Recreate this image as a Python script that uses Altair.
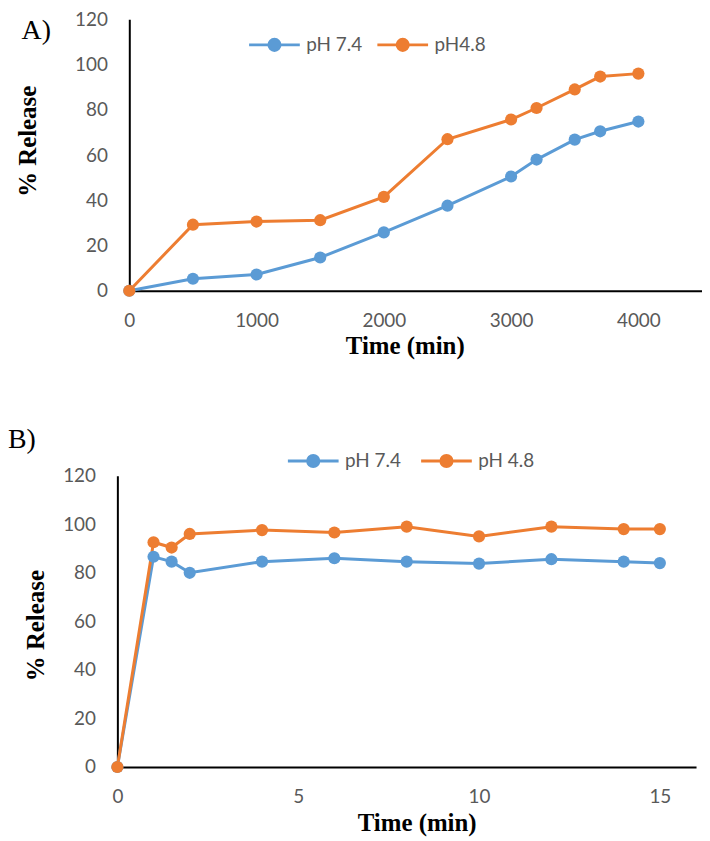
import altair as alt
import pandas as pd

# ---------------- data ----------------
a_time = [0, 500, 1000, 1500, 2000, 2500, 3000, 3200, 3500, 3700, 4000]
a_ph74 = [0, 5.3, 7.2, 14.7, 25.8, 37.6, 50.5, 58.0, 66.8, 70.5, 74.8]
a_ph48 = [0, 29.2, 30.6, 31.2, 41.5, 67.0, 75.7, 80.8, 89.0, 94.7, 96.0]
a_names = ["pH 7.4", "pH4.8"]

b_time = [0, 1, 1.5, 2, 4, 6, 8, 10, 12, 14, 15]
b_ph74 = [0, 86.6, 84.6, 80.0, 84.6, 86.0, 84.6, 83.8, 85.6, 84.6, 84.0]
b_ph48 = [0, 92.6, 90.4, 96.0, 97.6, 96.6, 99.0, 95.0, 99.0, 98.0, 98.0]
b_names = ["pH 7.4", "pH 4.8"]

colors = ["#5B9BD5", "#ED7D31"]
y_ticks = [0, 20, 40, 60, 80, 100, 120]
a_x_ticks = [0, 1000, 2000, 3000, 4000]
b_x_ticks = [0, 5, 10, 15]
panel_labels = ["A)", "B)"]


def to_long(times, s1, s2, names):
    rows = []
    for t, v in zip(times, s1):
        rows.append({"t": t, "v": v, "s": names[0]})
    for t, v in zip(times, s2):
        rows.append({"t": t, "v": v, "s": names[1]})
    return pd.DataFrame(rows)


LABEL_FONT = "Lato"
LABEL_COLOR = "#595959"
TITLE_FONT = "Liberation Serif"

# line through a solid dot (concentric stroked circles fill the dot)
LEG_PATH = (
    "M-1,0L1,0"
    "M-0.22,0A0.22,0.22,0,1,0,0.22,0A0.22,0.22,0,1,0,-0.22,0"
    "M-0.12,0A0.12,0.12,0,1,0,0.12,0A0.12,0.12,0,1,0,-0.12,0"
    "M-0.04,0A0.04,0.04,0,1,0,0.04,0A0.04,0.04,0,1,0,-0.04,0"
)


def panel(times, s1, s2, names, xdom, xticks, xrange, width, height,
          yoffset, ytitle_x, ytitle_y, xtitle_x, xtitle_y,
          leg_x, leg_y, leg_pad, label, lab_x, lab_y):
    df = to_long(times, s1, s2, names)
    xs = alt.Scale(domain=xdom, range=xrange, nice=False, zero=False)
    ys = alt.Scale(domain=[0, 120], nice=False)
    xa = alt.Axis(values=xticks, format="d", ticks=False, tickSize=0, grid=False,
                  domainColor="black", domainWidth=2,
                  labelFont=LABEL_FONT, labelFontSize=19, labelColor=LABEL_COLOR,
                  labelPadding=21, labelFlush=False, labelOverlap=False,
                  title="Time (min)", titleFont=TITLE_FONT, titleFontWeight="bold",
                  titleFontSize=25, titleColor="black", titleX=xtitle_x, titleY=xtitle_y,
                  titleAlign="center", titleBaseline="alphabetic")
    ya = alt.Axis(values=y_ticks, ticks=False, tickSize=0, grid=False,
                  domainColor="black", domainWidth=2, offset=yoffset,
                  labelFont=LABEL_FONT, labelFontSize=19, labelColor=LABEL_COLOR,
                  labelPadding=22, labelFlush=False, labelOverlap=False,
                  title="% Release", titleFont=TITLE_FONT, titleFontWeight="bold",
                  titleFontSize=25, titleColor="black", titleAngle=270,
                  titleX=ytitle_x, titleY=ytitle_y, titleAlign="center",
                  titleBaseline="middle")
    cs = alt.Scale(domain=names, range=colors)
    base = alt.Chart(df)
    lines = base.mark_line(strokeWidth=3).encode(
        x=alt.X("t:Q", scale=xs, axis=xa),
        y=alt.Y("v:Q", scale=ys, axis=ya),
        color=alt.Color("s:N", scale=cs, sort=names, legend=alt.Legend(
            title=None, orient="none", direction="horizontal",
            legendX=leg_x, legendY=leg_y, padding=0,
            symbolType=LEG_PATH, symbolSize=2601, symbolStrokeWidth=3,
            labelFont=LABEL_FONT, labelFontSize=19, labelColor=LABEL_COLOR,
            labelOffset=5, columnPadding=leg_pad)),
    )
    pts = base.mark_circle(size=150, opacity=1).encode(
        x=alt.X("t:Q", scale=xs, axis=xa),
        y=alt.Y("v:Q", scale=ys, axis=ya),
        color=alt.Color("s:N", scale=cs, sort=names, legend=None),
    )
    lab = alt.Chart(pd.DataFrame({"lab": [label]})).mark_text(
        align="left", baseline="alphabetic", font=TITLE_FONT, fontSize=28,
        color="black").encode(text="lab:N", x=alt.value(lab_x), y=alt.value(lab_y))
    return alt.layer(lines, pts, lab).properties(width=width, height=height)


chart_a = panel(a_time, a_ph74, a_ph48, a_names, [0, 4500], a_x_ticks, [12, 588],
                588, 273, -12, -102, 122.2, 289, 63,
                131, -1.5, 8, panel_labels[0], -96.3, 19.7)
chart_b = panel(b_time, b_ph74, b_ph48, b_names, [0, 16], b_x_ticks, [0, 582],
                582, 293, 0, -82, 150.3, 301, 64,
                170, -42, 13, panel_labels[1], -110, -27.4)

chart = alt.vconcat(chart_a, chart_b, spacing=68).resolve_scale(
    color="independent").resolve_legend(color="independent").properties(
    padding={"left": 0, "top": 0, "right": 0, "bottom": 0}
).configure_view(stroke=None)

chart.save("out.html", embed_options={"renderer": "svg", "actions": False})
